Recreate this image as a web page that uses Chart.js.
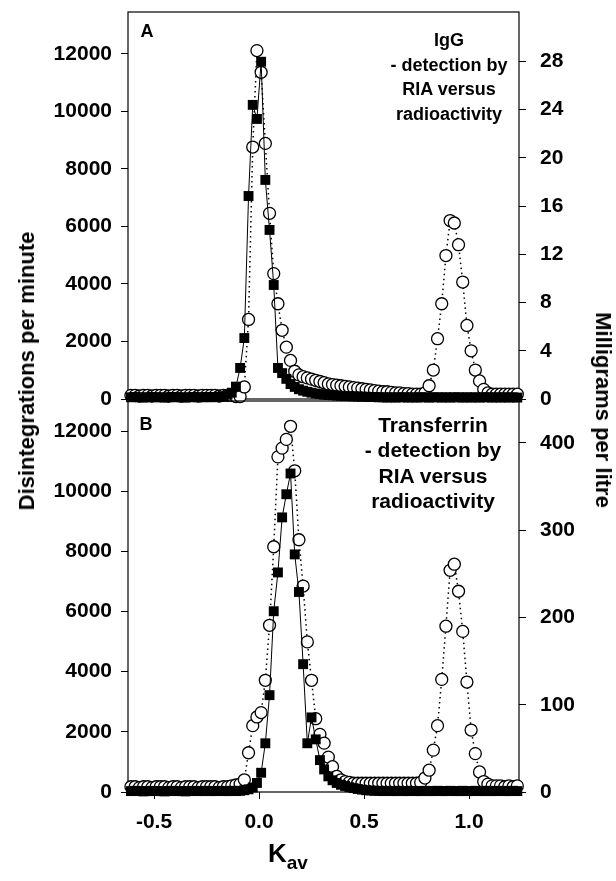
<!DOCTYPE html>
<html>
<head>
<meta charset="utf-8">
<script src="https://cdn.jsdelivr.net/npm/chart.js@4.4.1/dist/chart.umd.min.js"></script>
<style>
  body { margin: 0; background: #fff; }
  #wrap { position: relative; width: 616px; height: 881px; font-family: "Liberation Sans", Arial, sans-serif; font-weight: bold; color: #000; overflow: hidden; }
  canvas { position: absolute; left: 0; }
  #cA { top: 0; }
  #cB { top: 399px; }
  .lbl { position: absolute; white-space: nowrap; line-height: 1; }
  .note { position: absolute; text-align: center; white-space: nowrap; }
</style>
</head>
<body>
<div id="wrap">
  <canvas id="cA" width="616" height="420"></canvas>
  <canvas id="cB" width="616" height="482"></canvas>

  <div class="lbl" style="left:147px;top:31px;font-size:18px;transform:translate(-50%,-50%)">A</div>
  <div class="lbl" style="left:146px;top:424px;font-size:18px;transform:translate(-50%,-50%)">B</div>

  <div class="note" style="left:349px;top:28px;width:200px;font-size:18px;line-height:24.7px">IgG<br>- detection by<br>RIA versus<br>radioactivity</div>
  <div class="note" style="left:323px;top:412px;width:220px;font-size:21px;line-height:25.3px">Transferrin<br>- detection by<br>RIA versus<br>radioactivity</div>

  <div class="lbl" style="left:27px;top:371px;font-size:22px;transform:translate(-50%,-50%) rotate(-90deg)">Disintegrations per minute</div>
  <div class="lbl" style="left:603px;top:410px;font-size:22px;transform:translate(-50%,-50%) rotate(90deg)">Milligrams per litre</div>

  <div class="lbl" style="left:268px;top:840px;font-size:26px">K<span style="font-size:19px;position:relative;top:7px">av</span></div>
</div>

<script>
// elution position of each fraction
const kav = [
  -0.61, -0.59, -0.57, -0.55, -0.53, -0.51, -0.49, -0.47, -0.45, -0.43,
  -0.41, -0.39, -0.37, -0.35, -0.33, -0.31, -0.29, -0.27, -0.25, -0.23,
  -0.21, -0.19, -0.17, -0.15, -0.13, -0.11, -0.09, -0.07, -0.05, -0.03,
  -0.01, 0.01, 0.03, 0.05, 0.07, 0.09, 0.11, 0.13, 0.15, 0.17,
  0.19, 0.21, 0.23, 0.25, 0.27, 0.29, 0.31, 0.33, 0.35, 0.37,
  0.39, 0.41, 0.43, 0.45, 0.47, 0.49, 0.51, 0.53, 0.55, 0.57,
  0.59, 0.61, 0.63, 0.65, 0.67, 0.69, 0.71, 0.73, 0.75, 0.77,
  0.79, 0.81, 0.83, 0.85, 0.87, 0.89, 0.91, 0.93, 0.95, 0.97,
  0.99, 1.01, 1.03, 1.05, 1.07, 1.09, 1.11, 1.13, 1.15, 1.17,
  1.19, 1.21, 1.23
];

// panel A - IgG
const igRadio = [ // disintegrations per minute (filled squares)
  60, 70, 60, 50, 60, 70, 60, 60, 50, 60,
  70, 60, 60, 50, 60, 70, 60, 60, 70, 60,
  70, 80, 100, 150, 220, 430, 1080, 2120, 7060, 10230,
  9740, 11730, 7620, 5880, 3965, 1080, 900, 700, 520, 420,
  340, 290, 250, 220, 190, 170, 150, 140, 130, 120,
  110, 100, 100, 90, 90, 80, 80, 70, 70, 60,
  60, 50, 60, 50, 60, 60, 50, 60, 50, 60,
  60, 50, 60, 60, 50, 60, 50, 60, 60, 50,
  60, 50, 60, 50, 60, 60, 50, 60, 50, 60,
  50, 60, 50
];
const igRIA = [ // milligrams per litre (open circles)
  0.3, 0.3, 0.25, 0.3, 0.3, 0.25, 0.3, 0.3, 0.3, 0.25,
  0.3, 0.3, 0.25, 0.3, 0.3, 0.3, 0.25, 0.3, 0.3, 0.3,
  0.3, 0.25, 0.3, 0.3, 0.3, 0.2, 0.2, 1.0, 6.6, 20.9,
  28.9, 27.1, 21.2, 15.4, 10.4, 7.9, 5.7, 4.3, 3.2, 2.3,
  2.0, 1.85, 1.75, 1.65, 1.55, 1.45, 1.35, 1.25, 1.2, 1.15,
  1.1, 1.05, 1.0, 0.95, 0.9, 0.85, 0.8, 0.75, 0.7, 0.65,
  0.6, 0.6, 0.55, 0.5, 0.5, 0.45, 0.45, 0.4, 0.4, 0.4,
  0.5, 1.1, 2.4, 5.0, 7.9, 11.9, 14.8, 14.6, 12.8, 9.7,
  6.1, 4.0, 2.4, 1.5, 0.8, 0.5, 0.4, 0.4, 0.4, 0.4,
  0.4, 0.4, 0.4
];

// panel B - transferrin
const trRadio = [
  30, 40, 30, 20, 30, 40, 30, 30, 20, 30,
  40, 30, 30, 20, 30, 40, 30, 30, 40, 30,
  30, 40, 30, 30, 40, 30, 40, 60, 90, 150,
  300, 640, 1620, 3220, 6010, 7300, 9130, 9900, 10590, 7900,
  6650, 4250, 1620, 2480, 1750, 1060, 750, 520, 390, 300,
  240, 200, 160, 130, 100, 80, 60, 50, 40, 40,
  30, 40, 30, 30, 40, 30, 30, 40, 30, 30,
  40, 30, 30, 40, 30, 30, 40, 30, 30, 40,
  30, 30, 40, 30, 30, 40, 30, 30, 40, 30,
  30, 40, 30
];
const trRIA = [
  6, 6, 5, 6, 6, 5, 6, 6, 6, 5,
  6, 6, 5, 6, 6, 6, 5, 6, 6, 6,
  6, 5, 6, 6, 7, 8, 9, 14, 45, 76,
  86, 91, 128, 191, 281, 384, 394, 404, 419, 368,
  289, 236, 172, 128, 84, 66, 56, 40, 29, 18,
  14, 12, 11, 10, 10, 10, 10, 10, 10, 10,
  10, 10, 10, 10, 10, 10, 10, 10, 10, 11,
  16, 25, 48, 76, 129, 190, 254, 261, 230, 184,
  126, 71, 44, 23, 12, 9, 7, 7, 7, 6,
  7, 6, 7
];

const dpmTicks = [0, 2000, 4000, 6000, 8000, 10000, 12000];
const igTicks = [0, 4, 8, 12, 16, 20, 24, 28];
const trTicks = [0, 100, 200, 300, 400];
const kavTicks = [-0.5, 0.0, 0.5, 1.0];

Chart.defaults.font.family = '"Liberation Sans", Arial, sans-serif';
Chart.defaults.font.weight = 'bold';
Chart.defaults.color = '#000';

const pts = ys => kav.map((x, i) => ({ x: x, y: ys[i] }));
const tickFont = { size: 21, weight: 'bold' };

// box around plot area
const frame = {
  id: 'frame',
  beforeDatasetsDraw(chart) {
    const a = chart.chartArea, c = chart.ctx;
    c.save();
    c.strokeStyle = '#000';
    c.lineWidth = 1.2;
    c.strokeRect(a.left, a.top, a.right - a.left, a.bottom - a.top);
    c.restore();
  }
};

// fixed axis sizes so both panels line up
function fixSize(s, w, h) {
  if (w != null) s.width = w;
  if (h != null) s.height = h;
  s.paddingTop = 0; s.paddingBottom = 0;
  s.paddingLeft = 0; s.paddingRight = 0;
}

function squares(ys) {
  return {
    data: pts(ys), yAxisID: 'yL', order: 0, clip: false,
    borderColor: '#000', borderWidth: 1, tension: 0,
    pointStyle: 'rect', pointRadius: 7, pointBackgroundColor: '#000', pointBorderWidth: 0
  };
}
function circles(ys) {
  return {
    data: pts(ys), yAxisID: 'yR', order: 1, clip: false,
    borderColor: '#000', borderWidth: 1.5, borderDash: [1.5, 3.5], tension: 0,
    pointStyle: 'circle', pointRadius: 6, pointBackgroundColor: '#fff',
    pointBorderColor: '#000', pointBorderWidth: 1.3
  };
}
function yAxis(pos, max, ticks, width, pad) {
  return {
    type: 'linear', position: pos, min: 0, max: max,
    afterBuildTicks: s => { s.ticks = ticks.map(v => ({ value: v })); },
    afterFit: s => fixSize(s, width, null),
    ticks: { font: tickFont, padding: pad, callback: v => String(v) },
    grid: { drawOnChartArea: false, tickLength: 7, color: '#000', lineWidth: 1 },
    border: { display: false }
  };
}

function makeChart(id, radio, ria, lMax, rMax, rTicks, bottom) {
  const xAxis = bottom ? {
    type: 'linear', min: -0.624, max: 1.238,
    afterBuildTicks: s => { s.ticks = kavTicks.map(v => ({ value: v })); },
    afterFit: s => fixSize(s, null, 89),
    ticks: { font: tickFont, padding: 11, maxRotation: 0, callback: v => v.toFixed(1) },
    grid: { drawOnChartArea: false, tickLength: 7, color: '#000', lineWidth: 1 },
    border: { display: false }
  } : {
    type: 'linear', min: -0.624, max: 1.238,
    afterFit: s => fixSize(s, null, 21),
    ticks: { display: false },
    grid: { display: false },
    border: { display: false }
  };
  return new Chart(document.getElementById(id), {
    type: 'line',
    data: { datasets: [squares(radio), circles(ria)] },
    options: {
      responsive: false,
      animation: false,
      layout: { autoPadding: false, padding: { top: bottom ? 2 : 12, left: 0, right: 0, bottom: 0 } },
      plugins: { legend: { display: false }, tooltip: { enabled: false } },
      scales: {
        x: xAxis,
        yL: yAxis('left', lMax, dpmTicks, 128, 9),
        yR: yAxis('right', rMax, rTicks, 97, 14)
      }
    },
    plugins: [frame]
  });
}

makeChart('cA', igRadio, igRIA, 13460, 32.1, igTicks, false);
makeChart('cB', trRadio, trRIA, 13000, 448, trTicks, true);
</script>
</body>
</html>
